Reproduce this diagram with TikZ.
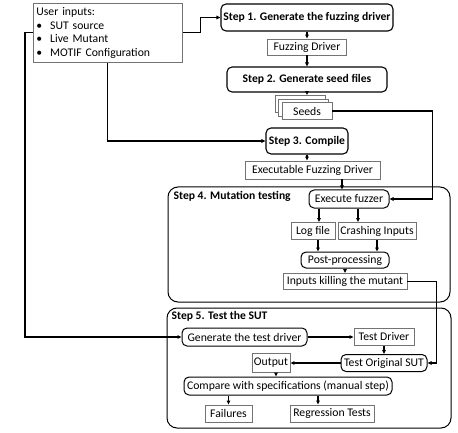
\documentclass[tikz,border=0pt]{standalone}
\usepackage{fontspec}
\setmainfont{Carlito}
\usetikzlibrary{arrows.meta,positioning}

\begin{document}
\begin{tikzpicture}[x=1pt,y=-1pt,
  every node/.style={font=\fontsize{11.7}{13.3}\selectfont,inner xsep=2pt,inner ysep=0pt},
  filebox/.style={draw=black!55,line width=0.8pt,fill=white},
  stepbox/.style={draw=black,line width=1.1pt,rounded corners=5pt,fill=white,font=\fontsize{11.6}{13.3}\selectfont\bfseries},
  taskbox/.style={draw=black,line width=1pt,rounded corners=5pt,fill=white},
  groupbox/.style={draw=black,line width=1pt,rounded corners=10pt},
  grouplabel/.style={font=\fontsize{11.6}{13.3}\selectfont\bfseries,inner sep=1pt},
  conn/.style={line width=1.1pt,-{Triangle[length=4pt,width=3.5pt]}}]
  \useasboundingbox (0,0) rectangle (458,433);

  % the two groups
  \node[groupbox,minimum width=282,minimum height=115] (mut) at (309,244.5) {};
  \node[grouplabel,anchor=west] (mutlabel) at ([xshift=5pt,yshift=-10pt]mut.north west) {Step 4. Mutation testing};
  \node[groupbox,minimum width=284,minimum height=120] (sut) at (309,368) {};
  \node[grouplabel,anchor=west] (sutlabel) at ([xshift=4pt,yshift=-9pt]sut.north west) {Step 5. Test the SUT};

  % user inputs
  \node[filebox,anchor=north west,text width=143,minimum height=59,align=left,inner xsep=3pt,
        font=\fontsize{11.7}{13.7}\selectfont] (inputs) at (33,3)
    {User inputs:\\ \textbullet\hspace{8pt}SUT source\\ \textbullet\hspace{8pt}Live Mutant\\ \textbullet\hspace{8pt}MOTIF Configuration};

  % steps 1 to 3
  \node[stepbox,minimum width=172,minimum height=27] (step1) at (307,17.5) {Step 1. Generate the fuzzing driver};
  \node[filebox,minimum width=79,minimum height=16] (fdriver) at (307,47) {Fuzzing Driver};
  \node[stepbox,minimum width=160,minimum height=25] (step2) at (307,79.5) {Step 2. Generate seed files};
  \node[filebox,minimum width=50,minimum height=17] (seedsb) at (300,104) {};
  \node[filebox,minimum width=50,minimum height=17] (seedsm) at (303.5,107.5) {};
  \node[filebox,minimum width=50,minimum height=17] (seeds) at (307,111) {Seeds\hspace{14pt}};
  \node[stepbox,minimum width=82,minimum height=26] (step3) at (307,141) {Step 3. Compile};
  \node[filebox,minimum width=135,minimum height=18] (exec) at (312.5,170) {Executable Fuzzing Driver};

  % step 4
  \node[taskbox,minimum width=80,minimum height=18] (fuzzer) at (349,199) {Execute fuzzer};
  \node[filebox,minimum width=44,minimum height=17] (logf) at (313,231) {Log file};
  \node[filebox,minimum width=78,minimum height=17] (crash) at (377,231) {Crashing Inputs};
  \node[taskbox,minimum width=88,minimum height=16] (post) at (345,260) {Post-processing};
  \node[filebox,minimum width=124,minimum height=16] (kill) at (345,281.5) {Inputs killing the mutant};

  % step 5
  \node[taskbox,minimum width=125,minimum height=18] (gendrv) at (244.5,337) {Generate the test driver};
  \node[filebox,minimum width=60,minimum height=17] (tdrv) at (384,337) {Test Driver};
  \node[taskbox,minimum width=86,minimum height=17] (torig) at (384,363) {Test Original SUT};
  \node[filebox,minimum width=36,minimum height=19] (output) at (271,363) {Output};
  \node[taskbox,minimum width=208,minimum height=18] (compare) at (288,386) {Compare with specifications (manual step)};
  \node[filebox,minimum width=47,minimum height=17] (fail) at (228.5,413.5) {Failures};
  \node[filebox,minimum width=84,minimum height=17] (regr) at (332,413.5) {Regression Tests};

  \coordinate (fzin) at ([xshift=-7pt]fuzzer.north);
  \coordinate (logtop) at ([xshift=6pt]logf.north);
  \coordinate (logbot) at ([xshift=5pt]logf.south);
  \coordinate (crashtop) at ([xshift=-19pt]crash.north);
  \coordinate (outbot) at ([xshift=5pt]output.south);
  \coordinate (regtop) at ([xshift=-14pt]regr.north);

  % connectors
  \draw[conn] (inputs.east) -- ++(18,0) |- (step1.west);
  \draw[conn] (inputs.south) |- (step3.west);
  \draw[conn] (inputs.west) -- ++(-8,0) |- (gendrv.west);
  \draw[conn] (step1) -- (fdriver);
  \draw[conn] (fdriver) -- (step2);
  \draw[conn] (step2.south) -- (step2.south |- seedsb.north);
  \draw[conn] (seeds.east) -- ++(100,0) |- (fuzzer.east);
  \draw[conn] (step3.south) -- (step3.south |- exec.north);
  \draw[conn] (fzin |- exec.south) -- (fzin);
  \draw[conn] (logtop |- fuzzer.south) -- (logtop);
  \draw[conn] (crashtop |- fuzzer.south) -- (crashtop);
  \draw[conn] (logbot) -- (logbot |- post.north);
  \draw[conn] (crash.south) -- (crash.south |- post.north);
  \draw[conn] (post) -- (kill);
  \draw[conn] (kill.east) -- ++(29,0) |- (torig.east);
  \draw[conn] (gendrv) -- (tdrv);
  \draw[conn] (tdrv) -- (torig);
  \draw[conn] (torig) -- (output);
  \draw[conn] (outbot) -- (outbot |- compare.north);
  \draw[conn] (fail.north |- compare.south) -- (fail.north);
  \draw[conn] (regtop |- compare.south) -- (regtop);
\end{tikzpicture}
\end{document}
